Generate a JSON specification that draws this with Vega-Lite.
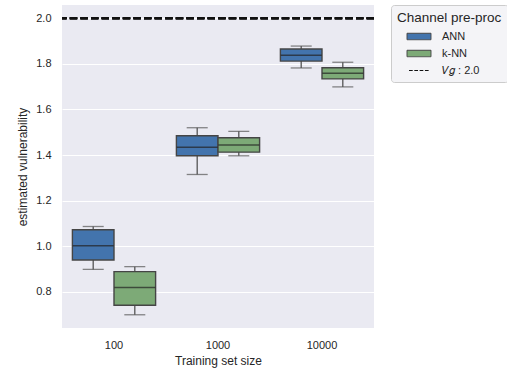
{
  "$schema": "https://vega.github.io/schema/vega-lite/v6.json",
  "width": 312,
  "height": 323,
  "autosize": "none",
  "padding": {"left": 62, "top": 5, "right": 133, "bottom": 46},
  "background": "white",
  "view": {"fill": "#eaeaf2", "stroke": null},
  "config": {
    "font": "Liberation Sans",
    "view": {"fill": "#eaeaf2", "stroke": null},
    "axis": {
      "domain": false,
      "ticks": false,
      "labelColor": "#262626",
      "titleColor": "#262626",
      "labelFontSize": 11,
      "titleFontSize": 12,
      "titleFontWeight": "normal",
      "gridColor": "white",
      "gridWidth": 1,
      "gridOpacity": 1
    },
    "legend": {
      "orient": "right",
      "offset": 17,
      "padding": 6,
      "fillColor": "#f4f4f7",
      "strokeColor": "#cccccc",
      "cornerRadius": 3,
      "titleFontSize": 13.5,
      "titleFontWeight": "normal",
      "titleColor": "#262626",
      "titlePadding": 4,
      "labelFontSize": 11,
      "labelColor": "#262626",
      "labelOffset": 15,
      "symbolOffset": 14,
      "symbolSize": 225,
      "symbolStrokeWidth": 1,
      "symbolOpacity": 1,
      "rowPadding": 3
    }
  },
  "data": {
    "values": [
      {"size": "100", "method": "ANN", "lower": 0.899, "q1": 0.940, "median": 1.003, "q3": 1.073, "upper": 1.087},
      {"size": "100", "method": "k-NN", "lower": 0.700, "q1": 0.742, "median": 0.820, "q3": 0.889, "upper": 0.911},
      {"size": "1000", "method": "ANN", "lower": 1.315, "q1": 1.397, "median": 1.434, "q3": 1.485, "upper": 1.520},
      {"size": "1000", "method": "k-NN", "lower": 1.397, "q1": 1.413, "median": 1.444, "q3": 1.476, "upper": 1.504},
      {"size": "10000", "method": "ANN", "lower": 1.782, "q1": 1.812, "median": 1.838, "q3": 1.865, "upper": 1.878},
      {"size": "10000", "method": "k-NN", "lower": 1.699, "q1": 1.734, "median": 1.759, "q3": 1.783, "upper": 1.807}
    ]
  },
  "layer": [
    {
      "mark": {"type": "rule", "color": "#555555", "strokeWidth": 1.3},
      "encoding": {
        "x": {
          "field": "size",
          "type": "nominal",
          "sort": ["100", "1000", "10000"],
          "scale": {"paddingInner": 0, "paddingOuter": 0},
          "axis": {"title": "Training set size", "labelAngle": 0, "labelPadding": 11, "titlePadding": 5, "grid": false}
        },
        "xOffset": {"field": "method", "type": "nominal", "scale": {"paddingInner": 0, "paddingOuter": 0.25}},
        "y": {
          "field": "lower",
          "type": "quantitative",
          "scale": {"domain": [0.642, 2.058], "nice": false, "zero": false},
          "axis": {
            "title": "estimated vulnerability",
            "values": [0.8, 1.0, 1.2, 1.4, 1.6, 1.8, 2.0],
            "format": ".1f",
            "labelPadding": 11,
            "titlePadding": 6,
            "grid": true
          }
        },
        "y2": {"field": "upper"}
      }
    },
    {
      "mark": {"type": "tick", "color": "#555555", "size": 21, "thickness": 1.3},
      "encoding": {
        "x": {"field": "size", "type": "nominal", "sort": ["100", "1000", "10000"]},
        "xOffset": {"field": "method", "type": "nominal"},
        "y": {"field": "lower", "type": "quantitative"}
      }
    },
    {
      "mark": {"type": "tick", "color": "#555555", "size": 21, "thickness": 1.3},
      "encoding": {
        "x": {"field": "size", "type": "nominal", "sort": ["100", "1000", "10000"]},
        "xOffset": {"field": "method", "type": "nominal"},
        "y": {"field": "upper", "type": "quantitative"}
      }
    },
    {
      "mark": {"type": "bar", "stroke": "#454545", "strokeWidth": 1.4, "opacity": 1},
      "encoding": {
        "x": {"field": "size", "type": "nominal", "sort": ["100", "1000", "10000"]},
        "xOffset": {"field": "method", "type": "nominal"},
        "y": {"field": "q1", "type": "quantitative"},
        "y2": {"field": "q3"},
        "color": {
          "field": "method",
          "type": "nominal",
          "scale": {"domain": ["ANN", "k-NN", "Vg"], "range": ["#4374ad", "#7daa77", "transparent"]},
          "legend": {"title": "Channel pre-proc", "labelExpr": "datum.value === 'Vg' ? '𝑉𝑔 : 2.0' : datum.label"}
        }
      }
    },
    {
      "mark": {"type": "tick", "color": "#222222", "size": 41, "thickness": 1.5},
      "encoding": {
        "x": {"field": "size", "type": "nominal", "sort": ["100", "1000", "10000"]},
        "xOffset": {"field": "method", "type": "nominal"},
        "y": {"field": "median", "type": "quantitative"}
      }
    },
    {
      "mark": {"type": "rule", "color": "#111111", "strokeDash": [7.4, 3.2], "strokeWidth": 2},
      "encoding": {
        "y": {"datum": 2.0}
      }
    },
    {
      "transform": [{"filter": "false"}],
      "mark": {"type": "point", "filled": true},
      "encoding": {
        "color": {
          "field": "method",
          "type": "nominal",
          "legend": {"title": "Channel pre-proc", "labelExpr": "datum.value === 'Vg' ? '𝑉𝑔 : 2.0' : datum.label"}
        },
        "stroke": {
          "field": "method",
          "type": "nominal",
          "scale": {"domain": ["ANN", "k-NN", "Vg"], "range": ["#454545", "#454545", "#111111"]},
          "legend": {"title": "Channel pre-proc", "labelExpr": "datum.value === 'Vg' ? '𝑉𝑔 : 2.0' : datum.label"}
        },
        "shape": {
          "field": "method",
          "type": "nominal",
          "scale": {"domain": ["ANN", "k-NN", "Vg"], "range": ["M-1.6,-0.43H1.6V0.43H-1.6Z", "M-1.6,-0.43H1.6V0.43H-1.6Z", "M-1.33,0H1.33"]},
          "legend": {"title": "Channel pre-proc", "labelExpr": "datum.value === 'Vg' ? '𝑉𝑔 : 2.0' : datum.label"}
        },
        "strokeDash": {
          "field": "method",
          "type": "nominal",
          "scale": {"domain": ["ANN", "k-NN", "Vg"], "range": [[1, 0], [1, 0], [3.7, 1.6]]},
          "legend": {"title": "Channel pre-proc", "labelExpr": "datum.value === 'Vg' ? '𝑉𝑔 : 2.0' : datum.label"}
        }
      }
    }
  ]
}
